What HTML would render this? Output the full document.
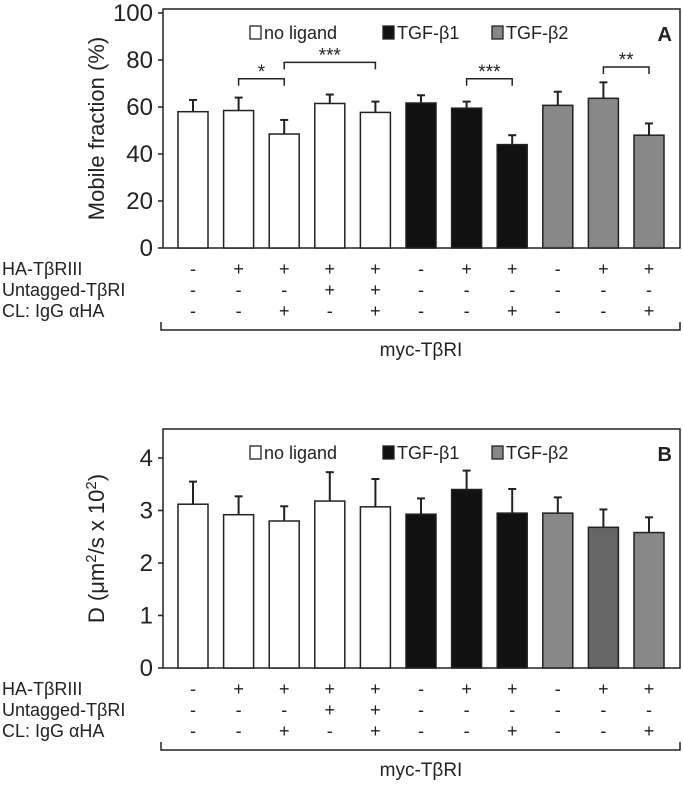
<!DOCTYPE html>
<html><head><meta charset="utf-8">
<style>
html,body{margin:0;padding:0;background:#fff;}
svg{display:block;font-family:"Liberation Sans",Arial,sans-serif;}
</style></head>
<body>
<svg id="fig" width="683" height="805" viewBox="0 0 683 805"></svg>
<script>
const categories = ["1","2","3","4","5","6","7","8","9","10","11"];
const groups = ["none","none","none","none","none","b1","b1","b1","b2","b2","b2"];
const mobileValues = [58,58.5,48.5,61.5,57.7,61.7,59.5,44,60.7,63.7,48];
const mobileErrTop = [63,64,54.5,65.3,62.3,65,62.3,48,66.5,70.5,53];
const dValues = [3.12,2.92,2.8,3.18,3.07,2.93,3.4,2.95,2.95,2.68,2.58];
const dErrTop = [3.55,3.27,3.08,3.73,3.6,3.23,3.76,3.41,3.25,3.02,2.87];
const mobileTicks = [0,20,40,60,80,100];
const dTicks = [0,1,2,3,4];
const rowHA = ["-","+","+","+","+","-","+","+","-","+","+"];
const rowUntagged = ["-","-","-","+","+","-","-","-","-","-","-"];
const rowCL = ["-","-","+","-","+","-","-","+","-","-","+"];
const sigA = [[1,2,72,"*"],[2,4,79,"***"],[6,7,72,"***"],[9,10,77,"**"]];

const NS="http://www.w3.org/2000/svg";
const svg=document.getElementById('fig');
function el(tag,attrs,parent){const e=document.createElementNS(NS,tag);for(const k in attrs)e.setAttribute(k,attrs[k]);(parent||svg).appendChild(e);return e;}
const xLeft=163,xRight=680;
function xc(i){return 193+i*45.6;}
const colors={none:"#fff",b1:"#111",b2:"#888"};

function panel(opt){
  const g=el('g',{});
  
  
  const y=v=>opt.y0-(v/opt.max)*(opt.y0-opt.yTop);
  const box=el('rect',{x:xLeft,y:opt.boxTop,width:xRight-xLeft,height:opt.y0-opt.boxTop,fill:"none",stroke:"#222","stroke-width":1.5},g);
  
  opt.ticks.forEach(t=>{
    const tl=el('line',{x1:xLeft-5,x2:xLeft,y1:y(t),y2:y(t),stroke:"#222","stroke-width":1.5},g);
    
    const tx=el('text',{x:xLeft-10,y:y(t)+8,"text-anchor":"end","font-size":24,fill:"#222"},g);
    tx.textContent=t;
  });
  const tt=el('text',{transform:`translate(${opt.titleX},${(opt.boxTop+opt.y0)/2}) rotate(-90)`,"text-anchor":"middle","font-size":22,fill:"#222"},g);
  tt.innerHTML=opt.title;
  opt.vals.forEach((v,i)=>{
    const cx=xc(i);
    let fill=colors[groups[i]];
    if(opt.darker&&i===opt.darker)fill="#666";
    const e=el('line',{x1:cx,x2:cx,y1:y(v),y2:y(opt.err[i]),stroke:"#222","stroke-width":2},g);
    
    const c=el('line',{x1:cx-4,x2:cx+4,y1:y(opt.err[i]),y2:y(opt.err[i]),stroke:"#222","stroke-width":2},g);
    
    const r=el('rect',{x:cx-15,y:y(v),width:30,height:opt.y0-y(v),fill:fill,stroke:"#222","stroke-width":1.5},g);
    
  });
  const ly=opt.legendY;
  [["no ligand","#fff",250],["TGF-\u03b21","#111",383],["TGF-\u03b22","#888",492]].forEach(([t,c,x])=>{
    const s=el('rect',{x:x,y:ly-13,width:11,height:13,fill:c,stroke:"#222","stroke-width":1.3},g);
    
    const tx=el('text',{x:x+14,y:ly,"font-size":18,fill:"#222"},g);
    tx.textContent=t;
  });
  const pl=el('text',{x:672,y:ly+2,"text-anchor":"end","font-size":20,"font-weight":"bold",fill:"#222"},g);
  pl.textContent=opt.letter;
  if(opt.sig){opt.sig.forEach(([a,b,v,s])=>{
    const yy=y(v);
    const p=el('path',{d:`M${xc(a)},${yy+7}V${yy}H${xc(b)}V${yy+7}`,fill:"none",stroke:"#222","stroke-width":1.5},g);
    
    const st=el('text',{x:(xc(a)+xc(b))/2,y:yy-1,"text-anchor":"middle","font-size":19,fill:"#222"},g);
    st.textContent=s;
  });}
  const rows=[["HA-T\u03b2RIII",rowHA],["Untagged-T\u03b2RI",rowUntagged],["CL: IgG \u03b1HA",rowCL]];
  rows.forEach(([lab,arr],r)=>{
    const yy=opt.tableY+r*21;
    const lt=el('text',{x:2,y:yy,"font-size":18,fill:"#222"},g);
    lt.textContent=lab;
    arr.forEach((s,i)=>{
      const t=el('text',{x:xc(i),y:yy,"text-anchor":"middle","font-size":18,fill:"#222"},g);
      t.textContent=s;
    });
  });
  const by=opt.tableY+55;
  const br=el('path',{d:`M161,${by-8}V${by}H680V${by-8}`,fill:"none",stroke:"#222","stroke-width":1.5},g);
  
  const mt=el('text',{x:421,y:by+26,"text-anchor":"middle","font-size":19,fill:"#222"},g);
  mt.textContent="myc-T\u03b2RI";
}
panel({name:'panel-a',boxTop:9,y0:248,yTop:13,max:100,ticks:mobileTicks,vals:mobileValues,err:mobileErrTop,
  title:'Mobile fraction (%)',titleX:104,legendY:39,letter:'A',sig:sigA,tableY:275});
panel({name:'panel-b',boxTop:429,y0:668,yTop:458,max:4,ticks:dTicks,vals:dValues,err:dErrTop,darker:9,
  title:'D (\u03bcm<tspan dy="-8" font-size="15">2</tspan><tspan dy="8">/s x 10</tspan><tspan dy="-8" font-size="15">2</tspan><tspan dy="8">)</tspan>',
  titleX:104,legendY:459,letter:'B',tableY:695});
</script>
</body></html>
